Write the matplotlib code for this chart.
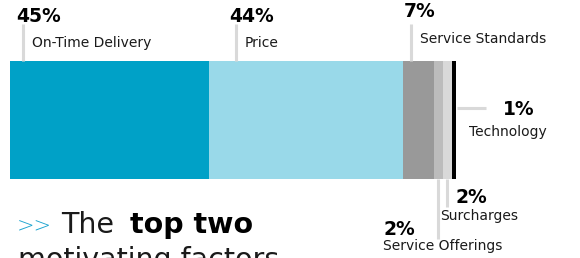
import matplotlib
matplotlib.use("Agg")
import matplotlib.pyplot as plt
import numpy as np
from matplotlib.lines import Line2D
from matplotlib.transforms import IdentityTransform

# data
factors = ["On-Time Delivery", "Price", "Service Standards",
           "Service Offerings", "Surcharges", "Technology"]
shares = [45, 44, 7, 2, 2, 1]
labels = ["45%", "44%", "7%", "2%", "2%", "1%"]
colours = ["#00a1c7", "#99d9e9", "#999999", "#bcbcbc", "#d9d9d9", "#000000"]

W, H = 580, 258
LEAD = "#d9d9d9"
INK = "#1a1a1a"

fig = plt.figure(figsize=(W / 100, H / 100), dpi=100)
ax = fig.add_axes([10 / W, 1 - 179 / H, 446 / W, 118 / H])
lefts = np.concatenate([[0], np.cumsum(shares)[:-1]])
ax.barh(0, shares, left=lefts, height=1, color=colours, align="edge")
ax.set_xlim(0, sum(shares))
ax.set_ylim(0, 1)
ax.set_axis_off()


def xpix(v):
    return ax.transData.transform((v, 0))[0]


def put(x, y, s, **kw):
    # y measured from the top of the image, in pixels
    return fig.text(x, H - y, s, transform=IdentityTransform(), **kw)


def lead(xs, ys):
    fig.add_artist(Line2D(xs, [H - y for y in ys], transform=IdentityTransform(),
                          color=LEAD, lw=2.2, solid_capstyle="butt"))


pct = dict(fontsize=13.5, fontweight="bold", color="black", va="baseline")
txt = dict(fontsize=10, color=INK, va="baseline")

# labels above the bar
for i, off in [(0, 13), (1, 27), (2, 8)]:
    x = xpix(lefts[i]) + off
    lead([x, x], [61, 24])
    put(x - 7, 22 if i < 2 else 17, labels[i], **pct)
    put(x + 9, 47 if i < 2 else 43, factors[i], **txt)

# technology, to the right
xe = xpix(sum(shares))
lead([xe + 1, xe + 30], [108, 108])
put(xe + 47, 115, labels[5], **pct)
put(xe + 13, 136, factors[5], **txt)

# surcharges
x = xpix(lefts[4]) + 4
lead([x, x], [179, 207])
put(x + 9, 203, labels[4], **pct)
put(x - 7, 220, factors[4], **txt)

# service offerings
x = xpix(lefts[3]) + 4
lead([x, x], [179, 239])
put(x - 54, 235, labels[3], **pct)
put(x - 55, 250, factors[3], **txt)

# caption
put(17, 232, ">>", fontsize=15, color="#1aa3cf", va="baseline", fontweight="light")
put(61, 233, "The", fontsize=20.5, color=INK, va="baseline")
put(130, 233, "top two", fontsize=20.5, fontweight="bold", color="black", va="baseline")
put(18, 268, "motivating factors", fontsize=20.5, color=INK, va="baseline")

fig.savefig("out.png", dpi=100)
